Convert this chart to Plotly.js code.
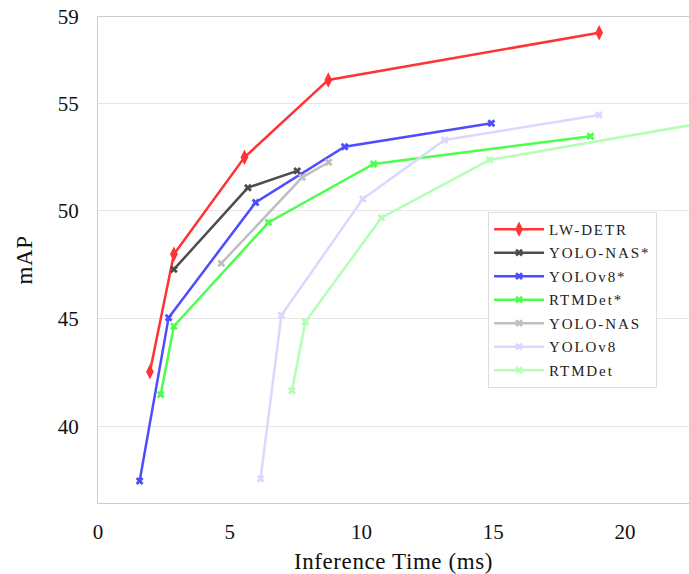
<!DOCTYPE html>
<html>
<head>
<meta charset="utf-8">
<script src="https://cdn.plot.ly/plotly-3.0.1.min.js"></script>
<style>
html,body{margin:0;padding:0;background:#fff;}
.legendtext{letter-spacing:1.9px;}
.xtitle,.ytitle{letter-spacing:0.6px;}
</style>
</head>
<body>
<div id="chart" style="width:689px;height:574px;"></div>
<script>
// Series names (legend order)
const seriesNames = ["LW-DETR", "YOLO-NAS*", "YOLOv8*", "RTMDet*", "YOLO-NAS", "YOLOv8", "RTMDet"];

// Inference time (ms) and mAP for each series
const lwdetrTime = [1.97, 2.88, 5.56, 8.74, 19.02];
const lwdetrMAP  = [42.54, 47.99, 52.49, 56.08, 58.27];

const yolonasStarTime = [2.88, 5.69, 7.56];
const yolonasStarMAP  = [47.29, 51.08, 51.86];

const yolov8StarTime = [1.58, 2.68, 5.98, 9.36, 14.93];
const yolov8StarMAP  = [37.47, 45.05, 50.39, 52.98, 54.07];

const rtmdetStarTime = [2.38, 2.88, 6.47, 10.46, 18.69];
const rtmdetStarMAP  = [41.48, 44.65, 49.47, 52.18, 53.47];

const yolonasTime = [4.68, 7.75, 8.75];
const yolonasMAP  = [47.57, 51.56, 52.26];

const yolov8Time = [6.17, 6.96, 10.05, 13.15, 19.01];
const yolov8MAP  = [37.58, 45.16, 50.56, 53.29, 54.45];

const rtmdetTime = [7.36, 7.87, 10.76, 14.86, 25.4];
const rtmdetMAP  = [41.66, 44.86, 49.69, 52.37, 54.6];

// Axis ticks
const xTickVals = [0, 5, 10, 15, 20];
const yTickVals = [40, 45, 50, 55, 59];

const xs = [lwdetrTime, yolonasStarTime, yolov8StarTime, rtmdetStarTime, yolonasTime, yolov8Time, rtmdetTime];
const ys = [lwdetrMAP, yolonasStarMAP, yolov8StarMAP, rtmdetStarMAP, yolonasMAP, yolov8MAP, rtmdetMAP];

const colors = ["#ff3333", "#4d4d4d", "#4d4dff", "#4dff4d", "#bfbfbf", "#d9d9ff", "#b3ffb3"];
const symbols = ["diamond-tall", "x", "x", "x", "x", "x", "x"];
const sizes = [11, 7, 7, 7, 7, 7, 7];

const FONT = "'Liberation Serif', 'Times New Roman', serif";

const traces = seriesNames.map((name, i) => ({
  type: "scatter",
  mode: "lines+markers",
  name: name,
  x: xs[i],
  y: ys[i],
  legendgroup: "g" + i,
  line: {color: colors[i], width: 2.5},
  marker: {symbol: symbols[i], size: sizes[i], color: colors[i], line: {width: 0}},
  cliponaxis: true
}));

const layout = {
  width: 689,
  height: 574,
  margin: {l: 98, r: 0, t: 17, b: 71},
  paper_bgcolor: "#ffffff",
  plot_bgcolor: "#ffffff",
  font: {family: FONT, color: "#111111"},
  showlegend: true,
  xaxis: {
    range: [0, 22.43],
    tickvals: xTickVals,
    ticktext: xTickVals.map(String),
    showgrid: false,
    zeroline: false,
    showline: true,
    linecolor: "#cccccc",
    linewidth: 1,
    mirror: true,
    ticks: "",
    ticklabelstandoff: 10,
    tickfont: {family: FONT, size: 21, color: "#111111"},
    title: {text: "Inference Time (ms)", font: {family: FONT, size: 23, color: "#111111"}, standoff: 11}
  },
  yaxis: {
    range: [36.45, 59],
    tickvals: yTickVals,
    ticktext: yTickVals.map(String),
    showgrid: true,
    gridcolor: "#e6e6e6",
    gridwidth: 1,
    zeroline: false,
    showline: true,
    linecolor: "#cccccc",
    linewidth: 1,
    mirror: false,
    ticks: "",
    ticklabelstandoff: 14,
    tickfont: {family: FONT, size: 21, color: "#111111"},
    title: {text: "mAP", font: {family: FONT, size: 23, color: "#111111"}, standoff: 18}
  },
  legend: {
    x: 0.66,
    y: 0.599,
    xanchor: "left",
    yanchor: "top",
    bgcolor: "#ffffff",
    bordercolor: "#dddddd",
    borderwidth: 1,
    traceorder: "grouped",
    tracegroupgap: 1,
    itemwidth: 50,
    font: {family: FONT, size: 15, color: "#222222"}
  }
};

Plotly.newPlot("chart", traces, layout, {displayModeBar: false, staticPlot: true});
</script>
</body>
</html>
